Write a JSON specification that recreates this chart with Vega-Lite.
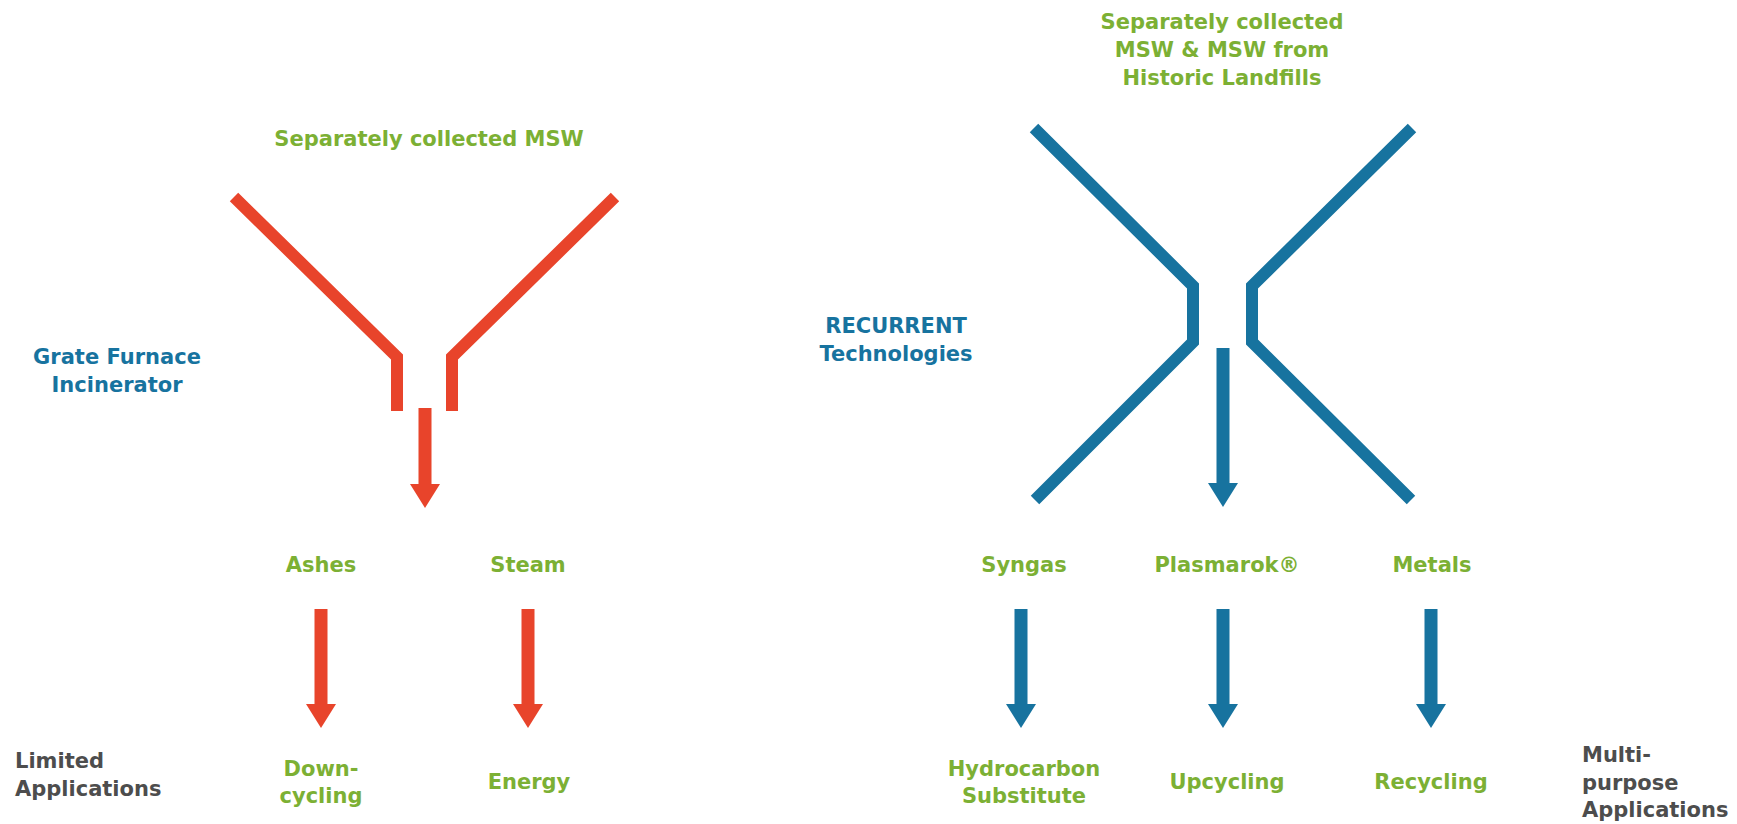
{
  "$schema": "https://vega.github.io/schema/vega-lite/v6.json",
  "width": 1737,
  "height": 824,
  "autosize": {"type": "none"},
  "padding": 0,
  "background": "#ffffff",
  "config": {"view": {"stroke": null}},
  "datasets": {
    "paths": [
      {"system": "Incineration", "path": "Y-left", "order": 1, "x": 234, "y": 197},
      {"system": "Incineration", "path": "Y-left", "order": 2, "x": 397, "y": 357},
      {"system": "Incineration", "path": "Y-left", "order": 3, "x": 397, "y": 411},
      {"system": "Incineration", "path": "Y-right", "order": 1, "x": 615, "y": 197},
      {"system": "Incineration", "path": "Y-right", "order": 2, "x": 452, "y": 357},
      {"system": "Incineration", "path": "Y-right", "order": 3, "x": 452, "y": 411},
      {"system": "RECURRENT", "path": "X-left", "order": 1, "x": 1034, "y": 128},
      {"system": "RECURRENT", "path": "X-left", "order": 2, "x": 1193, "y": 286},
      {"system": "RECURRENT", "path": "X-left", "order": 3, "x": 1193, "y": 342},
      {"system": "RECURRENT", "path": "X-left", "order": 4, "x": 1035, "y": 500},
      {"system": "RECURRENT", "path": "X-right", "order": 1, "x": 1412, "y": 128},
      {"system": "RECURRENT", "path": "X-right", "order": 2, "x": 1252, "y": 286},
      {"system": "RECURRENT", "path": "X-right", "order": 3, "x": 1252, "y": 342},
      {"system": "RECURRENT", "path": "X-right", "order": 4, "x": 1411, "y": 500}
    ],
    "arrows": [
      {"system": "Incineration", "x": 425, "top": 408, "neck": 491, "tip": 508},
      {"system": "Incineration", "x": 321, "top": 609, "neck": 711, "tip": 728},
      {"system": "Incineration", "x": 528, "top": 609, "neck": 711, "tip": 728},
      {"system": "RECURRENT", "x": 1223, "top": 348, "neck": 490, "tip": 507},
      {"system": "RECURRENT", "x": 1021, "top": 609, "neck": 711, "tip": 728},
      {"system": "RECURRENT", "x": 1223, "top": 609, "neck": 711, "tip": 728},
      {"system": "RECURRENT", "x": 1431, "top": 609, "neck": 711, "tip": 728}
    ],
    "labels": [
      {"kind": "material", "label": "Separately collected MSW", "x": 429, "y": 146},
      {"kind": "material", "label": "Separately collected", "x": 1222, "y": 29},
      {"kind": "material", "label": "MSW & MSW from", "x": 1222, "y": 57},
      {"kind": "material", "label": "Historic Landfills", "x": 1222, "y": 85},
      {"kind": "material", "label": "Ashes", "x": 321, "y": 572},
      {"kind": "material", "label": "Steam", "x": 528, "y": 572},
      {"kind": "material", "label": "Syngas", "x": 1024, "y": 572},
      {"kind": "material", "label": "Plasmarok®", "x": 1227, "y": 572},
      {"kind": "material", "label": "Metals", "x": 1432, "y": 572},
      {"kind": "material", "label": "Down-", "x": 321, "y": 776},
      {"kind": "material", "label": "cycling", "x": 321, "y": 803},
      {"kind": "material", "label": "Energy", "x": 529, "y": 789},
      {"kind": "material", "label": "Hydrocarbon", "x": 1024, "y": 776},
      {"kind": "material", "label": "Substitute", "x": 1024, "y": 803},
      {"kind": "material", "label": "Upcycling", "x": 1227, "y": 789},
      {"kind": "material", "label": "Recycling", "x": 1431, "y": 789},
      {"kind": "technology", "label": "Grate Furnace", "x": 117, "y": 364},
      {"kind": "technology", "label": "Incinerator", "x": 117, "y": 392},
      {"kind": "technology", "label": "RECURRENT", "x": 896, "y": 333},
      {"kind": "technology", "label": "Technologies", "x": 896, "y": 361},
      {"kind": "application", "label": "Limited", "x": 15, "y": 768},
      {"kind": "application", "label": "Applications", "x": 15, "y": 796},
      {"kind": "application", "label": "Multi-", "x": 1582, "y": 762},
      {"kind": "application", "label": "purpose", "x": 1582, "y": 790},
      {"kind": "application", "label": "Applications", "x": 1582, "y": 817}
    ]
  },
  "layer": [
    {
      "data": {"name": "paths"},
      "mark": {"type": "line", "strokeWidth": 12, "strokeJoin": "miter", "strokeCap": "butt"},
      "encoding": {
        "x": {"field": "x", "type": "quantitative", "scale": {"domain": [0, 1737], "nice": false, "zero": false}, "axis": null},
        "y": {"field": "y", "type": "quantitative", "scale": {"domain": [0, 824], "nice": false, "zero": false, "reverse": true}, "axis": null},
        "detail": {"field": "path", "type": "nominal"},
        "order": {"field": "order", "type": "quantitative"},
        "color": {"field": "system", "type": "nominal", "scale": {"domain": ["Incineration", "RECURRENT"], "range": ["#e8442b", "#17739f"]}, "legend": null}
      }
    },
    {
      "data": {"name": "arrows"},
      "mark": {"type": "rule", "strokeWidth": 13, "strokeCap": "butt"},
      "encoding": {
        "x": {"field": "x", "type": "quantitative", "scale": {"domain": [0, 1737], "nice": false, "zero": false}, "axis": null},
        "y": {"field": "top", "type": "quantitative", "scale": {"domain": [0, 824], "nice": false, "zero": false, "reverse": true}, "axis": null},
        "y2": {"field": "neck"},
        "color": {"field": "system", "type": "nominal", "scale": {"domain": ["Incineration", "RECURRENT"], "range": ["#e8442b", "#17739f"]}, "legend": null}
      }
    },
    {
      "data": {"name": "arrows"},
      "mark": {"type": "point", "filled": true, "opacity": 1, "strokeWidth": 0, "shape": "M-1,-1.6L1,-1.6L0,0Z", "size": 900},
      "encoding": {
        "x": {"field": "x", "type": "quantitative", "scale": {"domain": [0, 1737], "nice": false, "zero": false}, "axis": null},
        "y": {"field": "tip", "type": "quantitative", "scale": {"domain": [0, 824], "nice": false, "zero": false, "reverse": true}, "axis": null},
        "color": {"field": "system", "type": "nominal", "scale": {"domain": ["Incineration", "RECURRENT"], "range": ["#e8442b", "#17739f"]}, "legend": null}
      }
    },
    {
      "data": {"name": "labels"},
      "transform": [{"filter": "datum.kind === 'material'"}],
      "mark": {"type": "text", "align": "center", "baseline": "alphabetic", "font": "DejaVu Sans", "fontWeight": "bold", "fontSize": 21, "color": "#7cb034"},
      "encoding": {
        "x": {"field": "x", "type": "quantitative", "scale": {"domain": [0, 1737], "nice": false, "zero": false}, "axis": null},
        "y": {"field": "y", "type": "quantitative", "scale": {"domain": [0, 824], "nice": false, "zero": false, "reverse": true}, "axis": null},
        "text": {"field": "label"}
      }
    },
    {
      "data": {"name": "labels"},
      "transform": [{"filter": "datum.kind === 'technology'"}],
      "mark": {"type": "text", "align": "center", "baseline": "alphabetic", "font": "DejaVu Sans", "fontWeight": "bold", "fontSize": 21, "color": "#17739f"},
      "encoding": {
        "x": {"field": "x", "type": "quantitative", "scale": {"domain": [0, 1737], "nice": false, "zero": false}, "axis": null},
        "y": {"field": "y", "type": "quantitative", "scale": {"domain": [0, 824], "nice": false, "zero": false, "reverse": true}, "axis": null},
        "text": {"field": "label"}
      }
    },
    {
      "data": {"name": "labels"},
      "transform": [{"filter": "datum.kind === 'application'"}],
      "mark": {"type": "text", "align": "left", "baseline": "alphabetic", "font": "DejaVu Sans", "fontWeight": "bold", "fontSize": 21, "color": "#4d4d4d"},
      "encoding": {
        "x": {"field": "x", "type": "quantitative", "scale": {"domain": [0, 1737], "nice": false, "zero": false}, "axis": null},
        "y": {"field": "y", "type": "quantitative", "scale": {"domain": [0, 824], "nice": false, "zero": false, "reverse": true}, "axis": null},
        "text": {"field": "label"}
      }
    }
  ]
}
